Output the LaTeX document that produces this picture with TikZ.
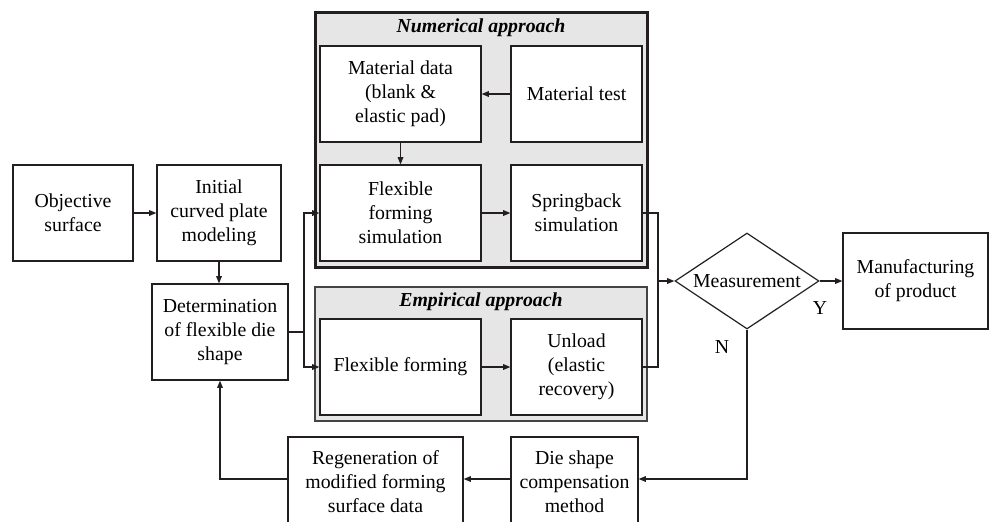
\documentclass[tikz,border=0pt]{standalone}
\usepackage{fontspec}
\setmainfont{Liberation Serif}
\usetikzlibrary{arrows.meta,shapes.geometric}
\definecolor{linec}{HTML}{231F20}
\definecolor{panelfill}{HTML}{E6E6E6}
\definecolor{panelline}{HTML}{444444}
\newcommand{\txtsize}{\fontsize{9.9}{12}\selectfont}
\tikzset{
  box/.style={draw=linec, line width=0.6pt, fill=white, align=center, inner sep=0pt, font=\txtsize, minimum height=48pt},
  panelnum/.style={draw=linec, line width=1.5pt, fill=panelfill},
  panelemp/.style={draw=panelline, line width=0.65pt, fill=panelfill},
  paneltitle/.style={font=\txtsize\bfseries\itshape, inner sep=0pt},
  lbl/.style={font=\txtsize, inner sep=0pt},
  conn/.style={draw=linec, line width=0.6pt},
  arr/.style={conn, -{Triangle[length=3.6pt,width=2.8pt]}},
}
\begin{document}
\begin{tikzpicture}[x=0.5pt,y=-0.5pt]
\useasboundingbox (0,0) rectangle (990,521);
% panels
\draw[panelnum] (315,12) rectangle (647,267);
\node[paneltitle] (numt) at (481,28) {Numerical approach};
\draw[panelemp] (315,287) rectangle (647,421);
\node[paneltitle] (empt) at (481,302) {Empirical approach};
% boxes
\node[box, minimum width=60pt] (obj) at (73,213) {Objective\\surface};
\node[box, minimum width=62pt] (init) at (219,213) {Initial\\curved plate\\modeling};
\node[box, minimum width=68pt] (det) at (220,332) {Determination\\of flexible die\\shape};
\node[box, minimum width=80.5pt] (matdata) at (400.5,94) {Material data\\(blank \&\\elastic pad)};
\node[box, minimum width=65.5pt] (mattest) at (576.5,94) {Material test};
\node[box, minimum width=80.5pt] (ffsim) at (400.5,213) {Flexible\\forming\\simulation};
\node[box, minimum width=65.5pt] (spring) at (576.5,213) {Springback\\simulation};
\node[box, minimum width=80.5pt] (ff) at (400.5,367) {Flexible forming};
\node[box, minimum width=65.5pt] (unload) at (576.5,367) {Unload\\(elastic\\recovery)};
\node[draw=linec, line width=0.6pt, diamond, inner sep=0pt, minimum width=72pt, minimum height=48pt, font=\txtsize] (meas) at (747,281) {\makebox[0pt]{Measurement}};
\node[box, minimum width=72.5pt] (manuf) at (915.5,281) {Manufacturing\\of product};
\node[box, minimum width=63.5pt, minimum height=45pt] (die) at (574.5,482) {Die shape\\compensation\\method};
\node[box, minimum width=87.5pt, minimum height=45pt] (regen) at (375.5,482) {Regeneration of\\modified forming\\surface data};
\node[lbl] (ylbl) at (820,308) {Y};
\node[lbl] (nlbl) at (722,347) {N};
% junction coordinates
\coordinate (jl) at (304,0);
\coordinate (jr) at (658,0);
\coordinate (jb) at (0,479);
% connectors
\draw[arr] (obj.east) -- (init.west);
\draw[arr] (init.south) -- (init.south |- det.north);
\draw[arr] (det.east) -| (jl |- ffsim.west) -- (ffsim.west);
\draw[arr] (det.east -| jl) |- (ff.west);
\draw[arr] (mattest.west) -- (matdata.east);
\draw[arr] (matdata.south) -- (ffsim.north);
\draw[arr] (ffsim.east) -- (spring.west);
\draw[arr] (ff.east) -- (unload.west);
\draw[conn] (spring.east) -| (jr |- unload.east) -- (unload.east);
\draw[arr] (jr |- meas.west) -- (meas.west);
\draw[arr] (meas.east) -- (manuf.west);
\draw[arr] (meas.south) |- (die.east |- jb);
\draw[arr] (die.west |- jb) -- (regen.east |- jb);
\draw[arr] (regen.west |- jb) -| (det.south);
\end{tikzpicture}
\end{document}
